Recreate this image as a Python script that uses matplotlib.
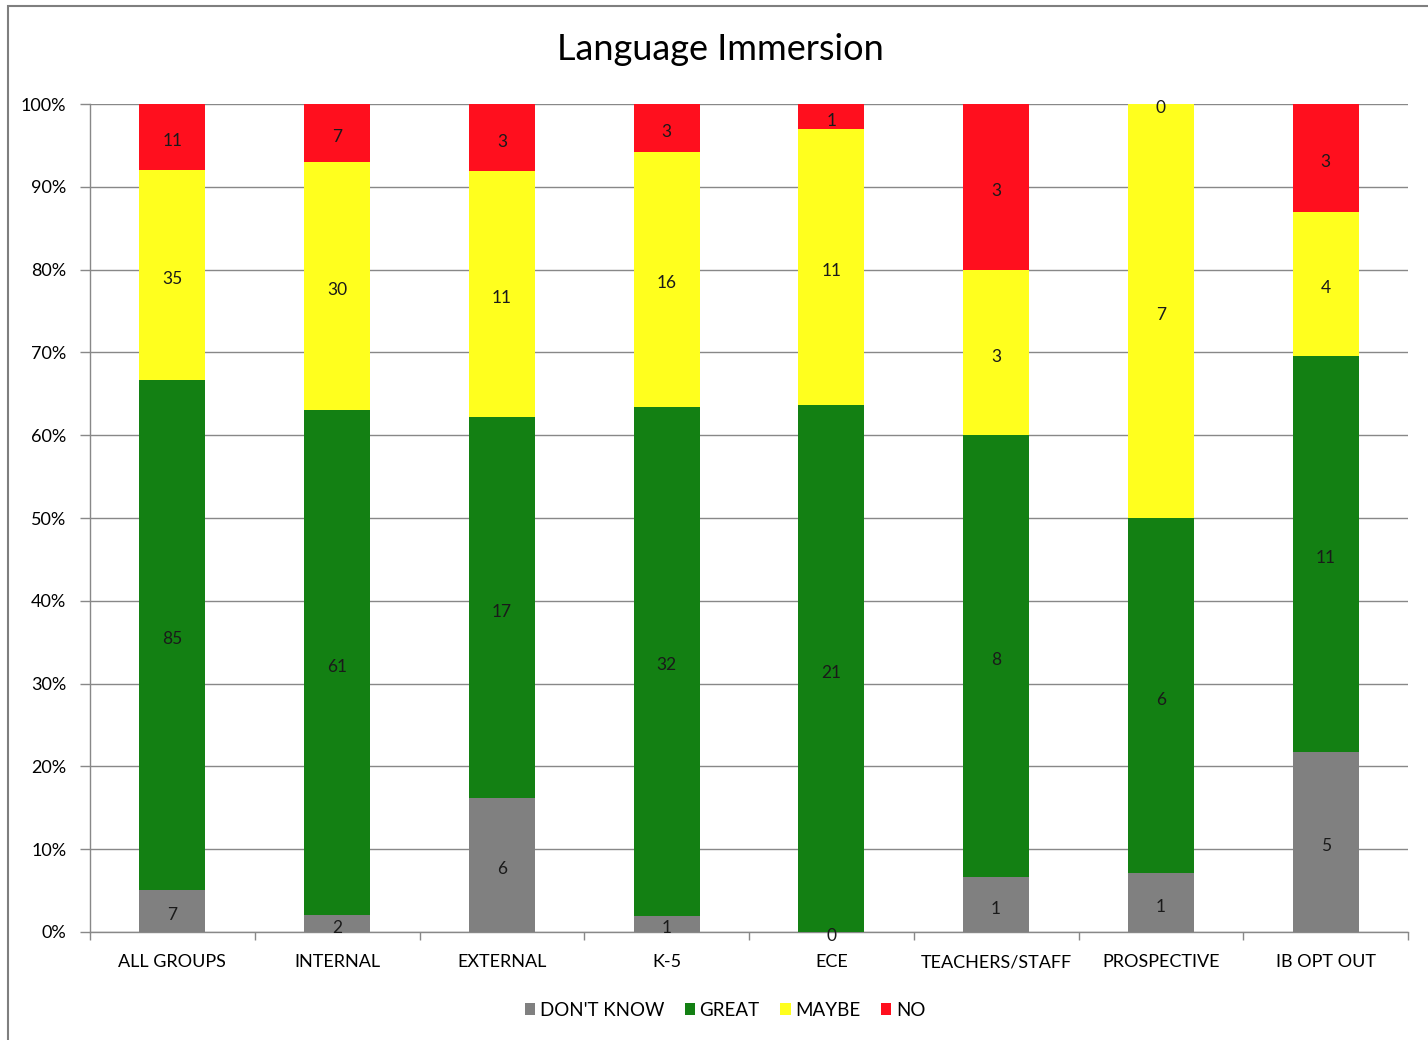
import matplotlib
matplotlib.use("Agg")
import matplotlib.pyplot as plt
import numpy as np
from matplotlib.patches import Rectangle

categories = ["ALL GROUPS", "INTERNAL", "EXTERNAL", "K-5", "ECE",
              "TEACHERS/STAFF", "PROSPECTIVE", "IB OPT OUT"]
dont_know = [7, 2, 6, 1, 0, 1, 1, 5]
great = [85, 61, 17, 32, 21, 8, 6, 11]
maybe = [35, 30, 11, 16, 11, 3, 7, 4]
no = [11, 7, 3, 3, 1, 3, 0, 3]
series_names = ["DON'T KNOW", "GREAT", "MAYBE", "NO"]
y_ticks = [0, 10, 20, 30, 40, 50, 60, 70, 80, 90, 100]
colors = ["#808080", "#138013", "#FFFF1E", "#FF0F1E"]

plt.rcParams['font.family'] = ['Lato', 'DejaVu Sans']

fig = plt.figure(figsize=(14.28, 10.4), dpi=100)
ax = fig.add_axes([90/1428, 1-932/1040, (1408-90)/1428, (932-104)/1040])

# outer frame
top = 1 - 6/1040
fig.patches.append(Rectangle((8/1428, -0.01), 1.02, top + 0.01, transform=fig.transFigure,
                             fill=False, edgecolor="#7f7f7f", linewidth=1.5, zorder=0))

data = np.array([dont_know, great, maybe, no], dtype=float)
totals = data.sum(axis=0)
pct = data / totals * 100
x = np.arange(len(categories))
bottom = np.zeros(len(categories))
for i in range(4):
    bars = ax.bar(x, pct[i], 0.4, bottom=bottom, color=colors[i], label=series_names[i], zorder=3)
    ax.bar_label(bars, labels=[str(int(v)) for v in data[i]], label_type='center',
                 fontsize=12.5, color="#1a1a1a", zorder=4, padding=-3)
    bottom += pct[i]

ax.set_xlim(-0.5, len(categories) - 0.5)
ax.set_ylim(0, 100)
ax.set_yticks(y_ticks)
ax.set_yticklabels([f"{t}%" for t in y_ticks], fontsize=13)
ax.set_xticks(x)
ax.set_xticklabels(categories, fontsize=13)
ax.tick_params(axis='x', length=0, pad=16)
ax.set_xticks(np.arange(len(categories) + 1) - 0.5, minor=True)
ax.tick_params(axis='x', which='minor', length=6, color="#888888", width=1)
ax.tick_params(axis='y', length=7, color="#888888", width=1, pad=10)
ax.yaxis.grid(True, color="#888888", linewidth=1, zorder=0)
for s in ["top", "right"]:
    ax.spines[s].set_visible(False)
for s in ["left", "bottom"]:
    ax.spines[s].set_color("#888888")
    ax.spines[s].set_linewidth(1)

fig.text(720/1428, 1-50/1040, "Language Immersion", ha='center', va='center', fontsize=26)

fig.legend(loc='center', bbox_to_anchor=(725/1428, 1-1010/1040), ncol=4, frameon=False,
           fontsize=13.5, handlelength=0.55, handleheight=0.55, handletextpad=0.25, columnspacing=1.1)

fig.savefig("out.png", dpi=100)
